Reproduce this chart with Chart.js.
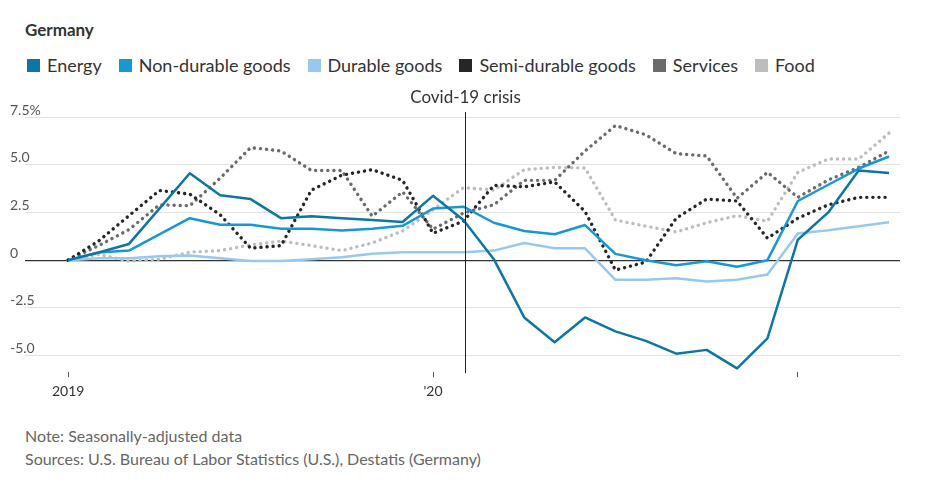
<!DOCTYPE html>
<html>
<head>
<meta charset="utf-8">
<script src="https://cdn.jsdelivr.net/npm/chart.js@4"></script>
<style>
  body { margin: 0; background: #fff; font-family: Lato, sans-serif; color: #333; }
  #title { position: absolute; left: 25px; top: 19px; font-size: 17px; font-weight: bold; color: #333; }
  #legend { position: absolute; left: 27px; top: 54px; display: flex; font-size: 18px; color: #333; }
  #legend span.item { display: flex; align-items: center; margin-right: 17px; }
  #legend span.box { width: 13px; height: 13px; margin-right: 7px; display: inline-block; }
  #wrap { position: absolute; left: 0; top: 82px; width: 932px; height: 330px; }
  #notes { position: absolute; left: 25px; top: 424px; font-size: 16px; color: #666; line-height: 23px; }
</style>
</head>
<body>
<div id="title">Germany</div>
<div id="legend"></div>
<div id="wrap"><canvas id="myChart"></canvas></div>
<div id="notes">Note: Seasonally-adjusted data<br>Sources: U.S. Bureau of Labor Statistics (U.S.), Destatis (Germany)</div>
<script>
// months since Jan 2019 (Jan 2019 .. Apr 2021)
var energy = [0, 0.4, 0.85, 2.7, 4.55, 3.4, 3.2, 2.2, 2.3, 2.2, 2.1, 2.0, 3.37, 2.1, 0.05, -3.0, -4.3, -3.0, -3.73, -4.23, -4.9, -4.7, -5.67, -4.1, 1.07, 2.5, 4.7, 4.57];
var nonDurable = [0, 0.4, 0.5, 1.35, 2.2, 1.85, 1.85, 1.65, 1.65, 1.56, 1.65, 1.8, 2.7, 2.8, 1.96, 1.53, 1.36, 1.84, 0.33, 0.0, -0.27, -0.06, -0.35, 0.0, 3.1, 3.95, 4.8, 5.43];
var durable = [0, 0.1, 0.1, 0.2, 0.25, 0.1, -0.05, -0.05, 0.05, 0.15, 0.33, 0.42, 0.42, 0.42, 0.5, 0.9, 0.62, 0.62, -1.03, -1.03, -0.95, -1.12, -1.03, -0.75, 1.4, 1.57, 1.78, 1.99];
var semiDurable = [0, 1.0, 2.33, 3.65, 3.46, 2.38, 0.63, 0.76, 3.67, 4.45, 4.74, 4.18, 1.41, 2.04, 3.92, 3.84, 4.1, 2.55, -0.52, -0.1, 2.2, 3.2, 3.1, 1.15, 2.2, 2.9, 3.29, 3.29];
var services = [0, 0.76, 1.6, 2.9, 2.85, 4.3, 5.9, 5.72, 4.7, 4.7, 2.3, 3.58, 1.62, 2.47, 2.9, 4.18, 4.18, 5.72, 7.05, 6.57, 5.58, 5.46, 3.24, 4.6, 3.29, 4.2, 4.86, 5.72];
var food = [0, 0.3, -0.05, 0.05, 0.42, 0.5, 0.8, 1.0, 0.76, 0.5, 0.9, 1.53, 2.64, 3.8, 3.67, 4.74, 4.86, 4.83, 2.1, 1.78, 1.48, 1.96, 2.33, 2.04, 4.6, 5.3, 5.3, 6.66];

var xTicks = [0, 12, 24];
var xTickLabels = ["2019", "'20", ""];
var yTicks = [-5, -2.5, 0, 2.5, 5, 7.5];
var covidMonth = 13.05;
var covidLabel = "Covid-19 crisis";

var series = [
  { label: "Energy", data: energy, color: "#0f76a3", dotted: false },
  { label: "Non-durable goods", data: nonDurable, color: "#1798d5", dotted: false },
  { label: "Durable goods", data: durable, color: "#98c9ec", dotted: false },
  { label: "Semi-durable goods", data: semiDurable, color: "#262626", dotted: true },
  { label: "Services", data: services, color: "#6b6b6b", dotted: true },
  { label: "Food", data: food, color: "#bdbdbd", dotted: true }
];

//legend
var legend = document.getElementById('legend');
series.forEach(function (s) {
  var item = document.createElement('span');
  item.className = 'item';
  item.innerHTML = '<span class="box" style="background:' + s.color + '"></span>' + s.label;
  legend.appendChild(item);
});

function points(arr) {
  return arr.map(function (v, i) { return { x: i, y: v }; });
}

var datasets = series.map(function (s) {
  return {
    label: s.label,
    data: points(s.data),
    borderColor: s.color,
    backgroundColor: s.color,
    borderWidth: s.dotted ? 3.4 : 2.5,
    borderDash: s.dotted ? [0.1, 6] : [],
    borderCapStyle: s.dotted ? 'round' : 'butt',
    borderJoinStyle: 'round',
    pointRadius: 0,
    tension: 0,
    fill: false
  };
});

// covid marker line
var covidPlugin = {
  id: 'covid',
  afterDatasetsDraw: function (chart) {
    var c = chart.ctx;
    var x = Math.round(chart.scales.x.getPixelForValue(covidMonth)) + 0.5;
    var area = chart.chartArea;
    c.save();
    c.strokeStyle = '#222';
    c.lineWidth = 1;
    c.beginPath();
    c.moveTo(x, area.top - 5);
    c.lineTo(x, area.bottom + 1);
    c.stroke();
    c.fillStyle = '#333';
    c.font = '17px Lato';
    c.textAlign = 'center';
    c.textBaseline = 'middle';
    c.fillText(covidLabel, x, area.top - 19);
    c.restore();
  }
};

var chart = new Chart(document.getElementById('myChart'), {
  type: 'line',
  data: { datasets: datasets },
  options: {
    responsive: true,
    maintainAspectRatio: false,
    animation: false,
    layout: { padding: { left: 25, right: 32, top: 35, bottom: 6 } },
    plugins: {
      legend: { display: false },
      tooltip: { enabled: false }
    },
    scales: {
      x: {
        type: 'linear',
        min: -1.42,
        max: 27.36,
        afterBuildTicks: function (scale) {
          scale.ticks = xTicks.map(function (v) { return { value: v }; });
        },
        ticks: {
          autoSkip: false,
          maxRotation: 0,
          color: '#333',
          font: { family: 'Lato', size: 14 },
          padding: 6,
          callback: function (v) { return xTickLabels[xTicks.indexOf(v)]; }
        },
        grid: { drawOnChartArea: false, drawTicks: true, tickLength: 5, color: '#555' },
        border: { display: false }
      },
      y: {
        min: -5.87,
        max: 7.5,
        afterBuildTicks: function (scale) {
          scale.ticks = yTicks.map(function (v) { return { value: v }; });
        },
        ticks: {
          mirror: true,
          padding: -5,
          labelOffset: -7,
          color: '#555',
          font: { family: 'Lato', size: 14 },
          callback: function (v) {
            if (v === 0) return '0';
            if (v === 7.5) return '7.5%';
            return v.toFixed(1);
          }
        },
        grid: {
          drawTicks: false,
          color: function (ctx) { return ctx.tick && ctx.tick.value === 0 ? '#333' : '#e2e2e2'; },
          lineWidth: function (ctx) { return ctx.tick && ctx.tick.value === 0 ? 1.2 : 1; }
        },
        border: { display: false }
      }
    }
  },
  plugins: [covidPlugin]
});
</script>
</body>
</html>
